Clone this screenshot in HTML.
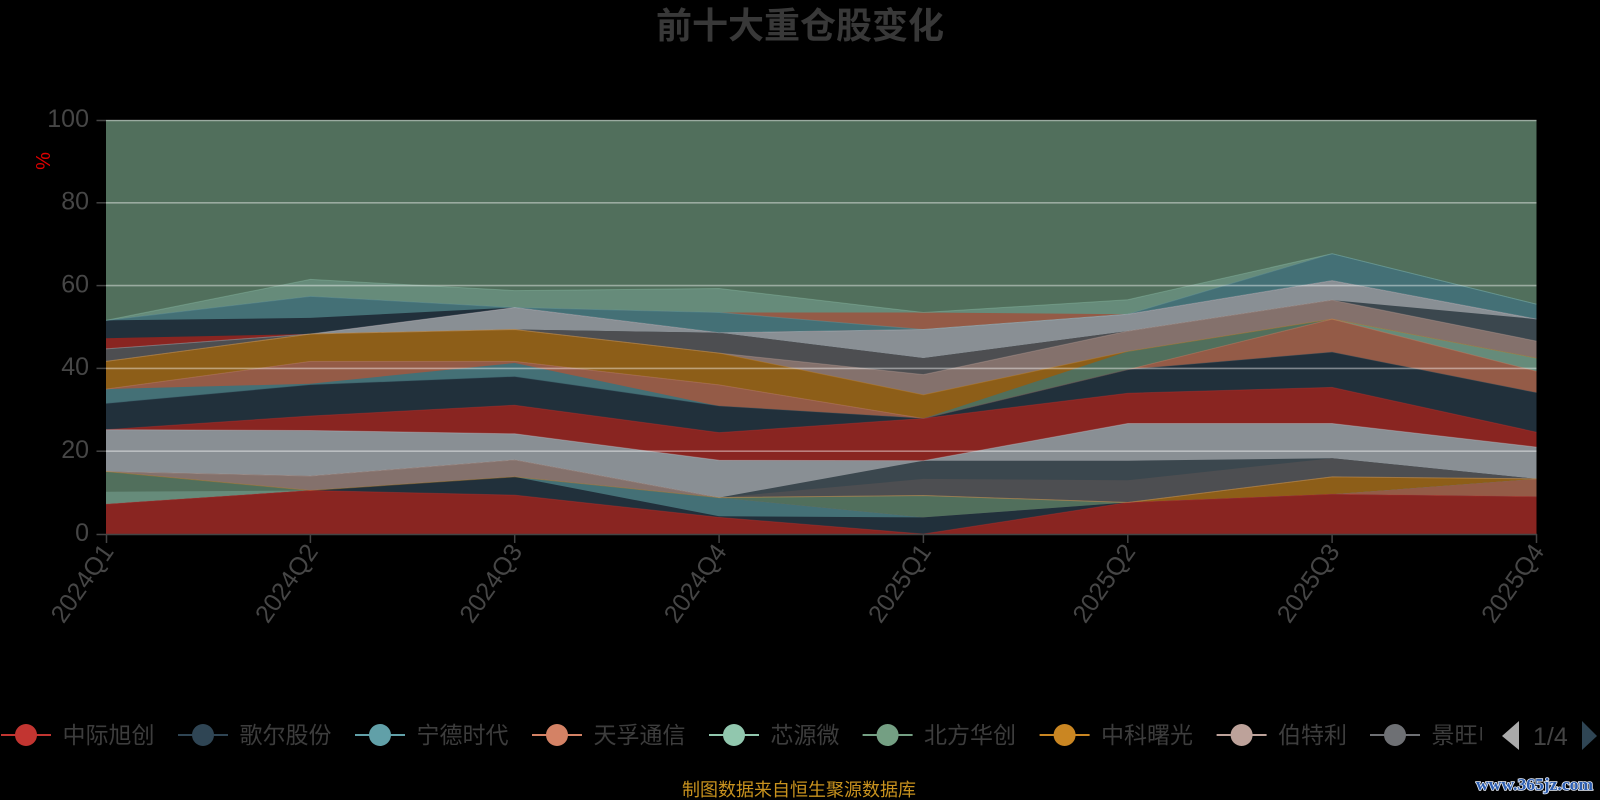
<!DOCTYPE html>
<html>
<head>
<meta charset="utf-8">
<style>
html,body{margin:0;padding:0;background:#000;}
svg{display:block;}
</style>
</head>
<body>
<svg width="1600" height="800" viewBox="0 0 1600 800" xmlns="http://www.w3.org/2000/svg">
<rect x="0" y="0" width="1600" height="800" fill="#000"/>

<!-- title -->
<text x="800" y="38" text-anchor="middle" font-family="'Liberation Sans','Noto Sans CJK SC',sans-serif" font-weight="bold" font-size="36" fill="#383838">前十大重仓股变化</text>

<!-- y axis name -->
<text transform="translate(50,161) rotate(-90)" text-anchor="middle" font-family="'Liberation Sans',sans-serif" font-size="20" fill="#e00000">%</text>

<!-- stacked areas (painter order, top series first) -->
<g>
<rect x="106" y="120" width="1430.5" height="414" fill="#516f5c"/>
<polygon fill="#668b7a" points="106,320.4 310.4,279.4 514.7,290.6 719.1,288.5 923.4,312.5 1127.8,299.7 1332.1,253.7 1536.5,304.2 1536.5,534 106,534"/>
<polygon fill="#945b47" points="106,320.4 310.4,296.4 514.7,307.5 719.1,312.5 923.4,312.5 1127.8,314.2 1332.1,253.7 1536.5,304.2 1536.5,534 106,534"/>
<polygon fill="#447076" points="106,320.4 310.4,296.4 514.7,307.5 719.1,312.5 923.4,329.5 1127.8,314.2 1332.1,253.7 1536.5,304.2 1536.5,534 106,534"/>
<polygon fill="#21303b" points="106,320.4 310.4,317.9 514.7,307.5 719.1,332.8 923.4,329.5 1127.8,314.2 1332.1,280.6 1536.5,319.1 1536.5,534 106,534"/>
<polygon fill="#892521" points="106,338.2 310.4,334.0 514.7,307.5 719.1,332.8 923.4,329.5 1127.8,314.2 1332.1,280.6 1536.5,319.1 1536.5,534 106,534"/>
<polygon fill="#898f94" points="106,348.9 310.4,334.0 514.7,307.5 719.1,332.8 923.4,329.5 1127.8,314.2 1332.1,280.6 1536.5,319.1 1536.5,534 106,534"/>
<polygon fill="#3b474e" points="106,348.9 310.4,334.0 514.7,329.5 719.1,332.8 923.4,358.1 1127.8,331.1 1332.1,300.1 1536.5,319.1 1536.5,534 106,534"/>
<polygon fill="#4d4e51" points="106,348.9 310.4,334.0 514.7,329.5 719.1,332.8 923.4,358.1 1127.8,331.1 1332.1,300.1 1536.5,341.1 1536.5,534 106,534"/>
<polygon fill="#84716c" points="106,361.4 310.4,334.0 514.7,329.5 719.1,353.1 923.4,374.6 1127.8,331.1 1332.1,300.1 1536.5,341.1 1536.5,534 106,534"/>
<polygon fill="#8d5e18" points="106,361.4 310.4,334.0 514.7,329.5 719.1,353.1 923.4,394.9 1127.8,351.4 1332.1,319.1 1536.5,358.1 1536.5,534 106,534"/>
<polygon fill="#516f5c" points="106,389.1 310.4,361.4 514.7,361.4 719.1,384.9 923.4,418.5 1127.8,351.4 1332.1,319.1 1536.5,358.1 1536.5,534 106,534"/>
<polygon fill="#668b7a" points="106,389.1 310.4,361.4 514.7,361.4 719.1,384.9 923.4,418.5 1127.8,369.6 1332.1,319.1 1536.5,358.1 1536.5,534 106,534"/>
<polygon fill="#945b47" points="106,389.1 310.4,361.4 514.7,361.4 719.1,384.9 923.4,418.5 1127.8,369.6 1332.1,319.1 1536.5,371.3 1536.5,534 106,534"/>
<polygon fill="#447076" points="106,389.1 310.4,383.7 514.7,363.0 719.1,406.1 923.4,418.5 1127.8,369.6 1332.1,352.3 1536.5,392.8 1536.5,534 106,534"/>
<polygon fill="#21303b" points="106,403.6 310.4,384.9 514.7,376.7 719.1,406.1 923.4,418.5 1127.8,369.6 1332.1,352.3 1536.5,392.8 1536.5,534 106,534"/>
<polygon fill="#892521" points="106,429.7 310.4,416.0 514.7,405.2 719.1,432.6 923.4,418.5 1127.8,393.2 1332.1,387.4 1536.5,432.2 1536.5,534 106,534"/>
<polygon fill="#898f94" points="106,429.7 310.4,430.5 514.7,433.8 719.1,460.3 923.4,460.7 1127.8,423.5 1332.1,423.5 1536.5,447.1 1536.5,534 106,534"/>
<polygon fill="#3b474e" points="106,471.5 310.4,476.0 514.7,459.9 719.1,497.6 923.4,460.7 1127.8,460.7 1332.1,458.2 1536.5,478.9 1536.5,534 106,534"/>
<polygon fill="#4d4e51" points="106,471.5 310.4,476.0 514.7,459.9 719.1,497.6 923.4,478.9 1127.8,480.2 1332.1,458.2 1536.5,478.9 1536.5,534 106,534"/>
<polygon fill="#84716c" points="106,471.5 310.4,476.0 514.7,459.9 719.1,497.6 923.4,495.5 1127.8,502.5 1332.1,476.9 1536.5,478.9 1536.5,534 106,534"/>
<polygon fill="#8d5e18" points="106,471.5 310.4,490.5 514.7,476.9 719.1,497.6 923.4,495.5 1127.8,502.5 1332.1,476.9 1536.5,478.9 1536.5,534 106,534"/>
<polygon fill="#516f5c" points="106,471.5 310.4,490.5 514.7,476.9 719.1,497.6 923.4,495.5 1127.8,502.5 1332.1,494.3 1536.5,478.9 1536.5,534 106,534"/>
<polygon fill="#668b7a" points="106,491.8 310.4,490.5 514.7,476.9 719.1,497.6 923.4,517.4 1127.8,502.5 1332.1,494.3 1536.5,478.9 1536.5,534 106,534"/>
<polygon fill="#945b47" points="106,504.2 310.4,490.5 514.7,476.9 719.1,497.6 923.4,517.4 1127.8,502.5 1332.1,494.3 1536.5,478.9 1536.5,534 106,534"/>
<polygon fill="#447076" points="106,504.2 310.4,490.5 514.7,476.9 719.1,497.6 923.4,517.4 1127.8,502.5 1332.1,494.3 1536.5,496.7 1536.5,534 106,534"/>
<polygon fill="#21303b" points="106,504.2 310.4,490.5 514.7,476.9 719.1,516.2 923.4,517.4 1127.8,502.5 1332.1,494.3 1536.5,496.7 1536.5,534 106,534"/>
<polygon fill="#892521" points="106,504.2 310.4,490.5 514.7,495.1 719.1,517.4 923.4,534 1127.8,502.5 1332.1,494.3 1536.5,496.7 1536.5,534 106,534"/>
</g>

<!-- series lines -->
<g fill="none" stroke-width="1" stroke-opacity="0.35" stroke-linejoin="round">
<polyline stroke="#91c7ae" points="106,320.4 310.4,279.4 514.7,290.6 719.1,288.5 923.4,312.5 1127.8,299.7 1332.1,253.7 1536.5,304.2"/>
<polyline stroke="#61a0a8" points="106,320.4 310.4,296.4 514.7,307.5 719.1,312.5 923.4,329.5 1127.8,314.2 1332.1,253.7 1536.5,304.2"/>
<polyline stroke="#c4ccd3" points="106,348.9 310.4,334.0 514.7,307.5 719.1,332.8 923.4,329.5 1127.8,314.2 1332.1,280.6 1536.5,319.1"/>
<polyline stroke="#bda29a" points="106,361.4 310.4,334.0 514.7,329.5 719.1,353.1 923.4,374.6 1127.8,331.1 1332.1,300.1 1536.5,341.1"/>
<polyline stroke="#ca8622" points="106,361.4 310.4,334.0 514.7,329.5 719.1,353.1 923.4,394.9 1127.8,351.4 1332.1,319.1 1536.5,358.1"/>
<polyline stroke="#d48265" points="106,389.1 310.4,361.4 514.7,361.4 719.1,384.9 923.4,418.5 1127.8,369.6 1332.1,319.1 1536.5,371.3"/>
<polyline stroke="#2f4554" points="106,403.6 310.4,384.9 514.7,376.7 719.1,406.1 923.4,418.5 1127.8,369.6 1332.1,352.3 1536.5,392.8"/>
<polyline stroke="#c23531" points="106,429.7 310.4,416.0 514.7,405.2 719.1,432.6 923.4,418.5 1127.8,393.2 1332.1,387.4 1536.5,432.2"/>
<polyline stroke="#c4ccd3" points="106,429.7 310.4,430.5 514.7,433.8 719.1,460.3 923.4,460.7 1127.8,423.5 1332.1,423.5 1536.5,447.1"/>
<polyline stroke="#bda29a" points="106,471.5 310.4,476.0 514.7,459.9 719.1,497.6 923.4,495.5 1127.8,502.5 1332.1,476.9 1536.5,478.9"/>
<polyline stroke="#ca8622" points="106,471.5 310.4,490.5 514.7,476.9 719.1,497.6 923.4,495.5 1127.8,502.5 1332.1,476.9 1536.5,478.9"/>
<polyline stroke="#c23531" points="106,504.2 310.4,490.5 514.7,495.1 719.1,517.4 923.4,534 1127.8,502.5 1332.1,494.3 1536.5,496.7"/>
</g>

<!-- grid lines -->
<g stroke="#ffffff" stroke-opacity="0.42" stroke-width="1.6">
<line x1="106" y1="120.5" x2="1536.5" y2="120.5"/>
<line x1="106" y1="202.8" x2="1536.5" y2="202.8"/>
<line x1="106" y1="285.6" x2="1536.5" y2="285.6"/>
<line x1="106" y1="368.4" x2="1536.5" y2="368.4"/>
<line x1="106" y1="451.2" x2="1536.5" y2="451.2"/>
</g>

<!-- axes -->
<g stroke="#444" stroke-width="1.5">
<line x1="106" y1="534.5" x2="1537" y2="534.5"/>
<line x1="96.5" y1="120.5" x2="106" y2="120.5"/>
<line x1="96.5" y1="202.8" x2="106" y2="202.8"/>
<line x1="96.5" y1="285.6" x2="106" y2="285.6"/>
<line x1="96.5" y1="368.4" x2="106" y2="368.4"/>
<line x1="96.5" y1="451.2" x2="106" y2="451.2"/>
<line x1="96.5" y1="534.5" x2="106" y2="534.5"/>
<line x1="106.5" y1="534" x2="106.5" y2="543"/>
<line x1="310.4" y1="534" x2="310.4" y2="543"/>
<line x1="514.7" y1="534" x2="514.7" y2="543"/>
<line x1="719.1" y1="534" x2="719.1" y2="543"/>
<line x1="923.4" y1="534" x2="923.4" y2="543"/>
<line x1="1127.8" y1="534" x2="1127.8" y2="543"/>
<line x1="1332.1" y1="534" x2="1332.1" y2="543"/>
<line x1="1536.5" y1="534" x2="1536.5" y2="543"/>
</g>

<!-- y labels -->
<g font-family="'Liberation Sans',sans-serif" font-size="25" fill="#464646" text-anchor="end">
<text x="89" y="127">100</text>
<text x="89" y="209.5">80</text>
<text x="89" y="292.3">60</text>
<text x="89" y="375.1">40</text>
<text x="89" y="457.9">20</text>
<text x="89" y="541">0</text>
</g>

<!-- x labels -->
<g font-family="'Liberation Sans',sans-serif" font-size="25" fill="#464646" text-anchor="end" dominant-baseline="central">
<text transform="translate(108,547) rotate(-55)">2024Q1</text>
<text transform="translate(312.4,547) rotate(-55)">2024Q2</text>
<text transform="translate(516.7,547) rotate(-55)">2024Q3</text>
<text transform="translate(721.1,547) rotate(-55)">2024Q4</text>
<text transform="translate(925.4,547) rotate(-55)">2025Q1</text>
<text transform="translate(1129.8,547) rotate(-55)">2025Q2</text>
<text transform="translate(1334.1,547) rotate(-55)">2025Q3</text>
<text transform="translate(1538.5,547) rotate(-55)">2025Q4</text>
</g>

<!-- legend -->
<defs>
<clipPath id="lc"><rect x="0" y="700" width="1482" height="70"/></clipPath>
</defs>
<g clip-path="url(#lc)" font-family="'Liberation Sans','Noto Sans CJK SC',sans-serif" font-size="23" fill="#3d3d3d">
<line x1="1" y1="735" x2="51" y2="735" stroke="#c23531" stroke-width="2"/><circle cx="26" cy="735" r="11" fill="#c23531"/><text x="62.5" y="743">中际旭创</text>
<line x1="178" y1="735" x2="228" y2="735" stroke="#2f4554" stroke-width="2"/><circle cx="203" cy="735" r="11" fill="#2f4554"/><text x="239.5" y="743">歌尔股份</text>
<line x1="355" y1="735" x2="405" y2="735" stroke="#61a0a8" stroke-width="2"/><circle cx="380" cy="735" r="11" fill="#61a0a8"/><text x="416.5" y="743">宁德时代</text>
<line x1="532" y1="735" x2="582" y2="735" stroke="#d48265" stroke-width="2"/><circle cx="557" cy="735" r="11" fill="#d48265"/><text x="593.5" y="743">天孚通信</text>
<line x1="709" y1="735" x2="759" y2="735" stroke="#91c7ae" stroke-width="2"/><circle cx="734" cy="735" r="11" fill="#91c7ae"/><text x="770.5" y="743">芯源微</text>
<line x1="862.6" y1="735" x2="912.6" y2="735" stroke="#749f83" stroke-width="2"/><circle cx="887.6" cy="735" r="11" fill="#749f83"/><text x="924" y="743">北方华创</text>
<line x1="1039.6" y1="735" x2="1089.6" y2="735" stroke="#ca8622" stroke-width="2"/><circle cx="1064.6" cy="735" r="11" fill="#ca8622"/><text x="1101" y="743">中科曙光</text>
<line x1="1216.6" y1="735" x2="1266.6" y2="735" stroke="#bda29a" stroke-width="2"/><circle cx="1241.6" cy="735" r="11" fill="#bda29a"/><text x="1278" y="743">伯特利</text>
<line x1="1370" y1="735" x2="1420" y2="735" stroke="#6e7074" stroke-width="2"/><circle cx="1395" cy="735" r="11" fill="#6e7074"/><text x="1431.5" y="743">景旺电子</text>
</g>
<polygon points="1502,736 1519,721 1519,750" fill="#aaaaaa"/>
<text x="1533" y="745" font-family="'Liberation Sans',sans-serif" font-size="25" fill="#444">1/4</text>
<polygon points="1582,721 1597,736 1582,750" fill="#2f4554"/>

<!-- footer -->
<text x="799" y="796" text-anchor="middle" font-family="'Liberation Sans','Noto Sans CJK SC',sans-serif" font-size="18" fill="#c8921e">制图数据来自恒生聚源数据库</text>

<!-- watermark -->
<text x="1476" y="790" textLength="117" lengthAdjust="spacingAndGlyphs" font-family="'Liberation Serif',serif" font-weight="bold" font-size="17" fill="#2c5db0" stroke="#e8eef8" stroke-width="1.6" paint-order="stroke">www.365jz.com</text>
</svg>
</body>
</html>
